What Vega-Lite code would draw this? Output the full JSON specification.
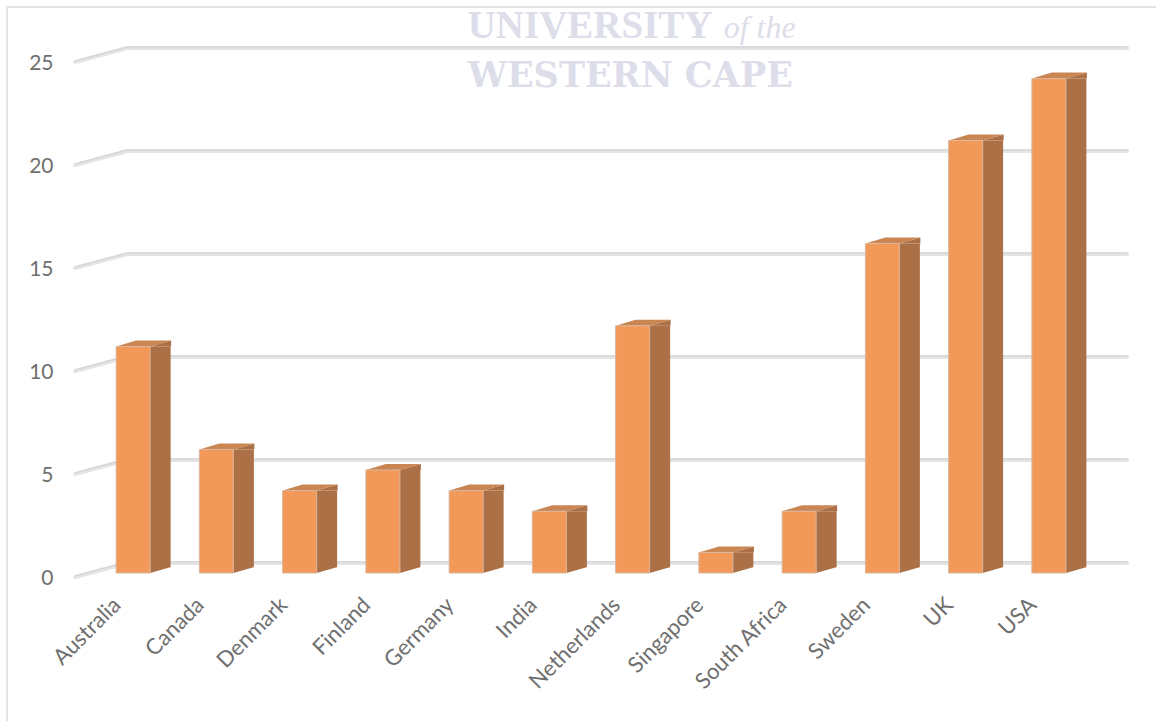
{
"$schema":"https://vega.github.io/schema/vega-lite/v6.json",
"width":1052,"height":515,"autosize":"none",
"padding":{"left":75,"top":58,"right":29,"bottom":148},
"background":"#ffffff",
"config":{"view":{"stroke":null}},
"datasets":{
"bars":[{"country":"Australia","value":11},{"country":"Canada","value":6},{"country":"Denmark","value":4},{"country":"Finland","value":5},{"country":"Germany","value":4},{"country":"India","value":3},{"country":"Netherlands","value":12},{"country":"Singapore","value":1},{"country":"South Africa","value":3},{"country":"Sweden","value":16},{"country":"UK","value":21},{"country":"USA","value":24}],
"grid":[{"country":"Australia","value":0},{"country":"Australia","value":5},{"country":"Australia","value":10},{"country":"Australia","value":15},{"country":"Australia","value":20},{"country":"Australia","value":25}],
"frame":[{"country":"Australia","value":25}],
"logo1":[{"country":"Netherlands","value":25.97,"label":"UNIVERSITY"}],
"logo2":[{"country":"Netherlands","value":25.97,"label":"of the"}],
"logo3":[{"country":"Netherlands","value":23.6,"label":"WESTERN CAPE"}]
},
"encoding":{
"x":{"field":"country","type":"nominal","title":null,
"scale":{"domain":["Australia","Canada","Denmark","Finland","Germany","India","Netherlands","Singapore","South Africa","Sweden","UK","USA"],"range":[16.5,1015.5],"paddingInner":0,"paddingOuter":0},
"axis":{"labelAngle":-45,"labelAlign":"right","labelBaseline":"middle","labelFont":"Lato","labelFontSize":22,"labelColor":"#6f6f6f","labelPadding":28,"labelOffset":-16,"domain":false,"ticks":false,"grid":false,"labelOverlap":false}},
"y":{"field":"value","type":"quantitative","title":null,"stack":null,
"scale":{"domain":[0,25],"nice":false},
"axis":{"values":[0,5,10,15,20,25],"labelFont":"Lato","labelFontSize":21,"labelColor":"#6f6f6f","labelPadding":22,"labelOffset":5,"domain":false,"ticks":false,"grid":false}}
},
"layer":[
{"data":{"name":"frame"},"mark":{"type":"point","shape":"M-126,669 L-126,-51 L1030,-51","size":4,"filled":false,"stroke":"#e3e3e3","strokeWidth":2,"opacity":1}},
{"data":{"name":"logo1"},"mark":{"type":"text","align":"left","baseline":"alphabetic","dx":-165,"font":"Liberation Serif","fontWeight":"bold","fontSize":39,"color":"#dddeea"},"encoding":{"text":{"field":"label"}}},
{"data":{"name":"logo2"},"mark":{"type":"text","align":"left","baseline":"alphabetic","dx":91,"font":"Liberation Serif","fontStyle":"italic","fontSize":32,"color":"#dddeea"},"encoding":{"text":{"field":"label"}}},
{"data":{"name":"logo3"},"mark":{"type":"text","align":"left","baseline":"alphabetic","dx":-165,"font":"DejaVu Serif","fontWeight":"bold","fontSize":35,"color":"#dddeea"},"encoding":{"text":{"field":"label"}}},
{"data":{"name":"grid"},"mark":{"type":"point","shape":"M-58,4 L-6,-10 L994,-10","size":4,"filled":false,"stroke":"#e4e4e4","strokeWidth":4,"strokeCap":"round","strokeJoin":"round","opacity":1}},
{"data":{"name":"grid"},"mark":{"type":"point","shape":"M-58,3 L-6,-11 L994,-11","size":4,"filled":false,"stroke":"#d2d2d2","strokeWidth":1,"opacity":1}},
{"data":{"name":"bars"},"mark":{"type":"bar","width":21,"xOffset":27,"y2Offset":-6,"color":"#ab7045"},"encoding":{"y2":{"datum":0}}},
{"data":{"name":"bars"},"mark":{"type":"point","shape":"M17,0 L38,-6 L38,0 Z","size":4,"filled":true,"color":"#ab7045","opacity":1}},
{"data":{"name":"bars"},"mark":{"type":"point","shape":"M17,0 L38,-6 L17,-6 Z","size":4,"filled":true,"color":"#ab7045","opacity":1},"encoding":{"y":{"datum":0,"type":"quantitative"}}},
{"data":{"name":"bars"},"mark":{"type":"point","shape":"M-17,0 L17,0 L38,-6 L3,-6 Z","size":4,"filled":true,"color":"#c98552","opacity":1}},
{"data":{"name":"bars"},"mark":{"type":"bar","width":34,"color":"#f29859","stroke":"#d9b79f","strokeWidth":1},"encoding":{"y2":{"datum":0}}}
]
}
